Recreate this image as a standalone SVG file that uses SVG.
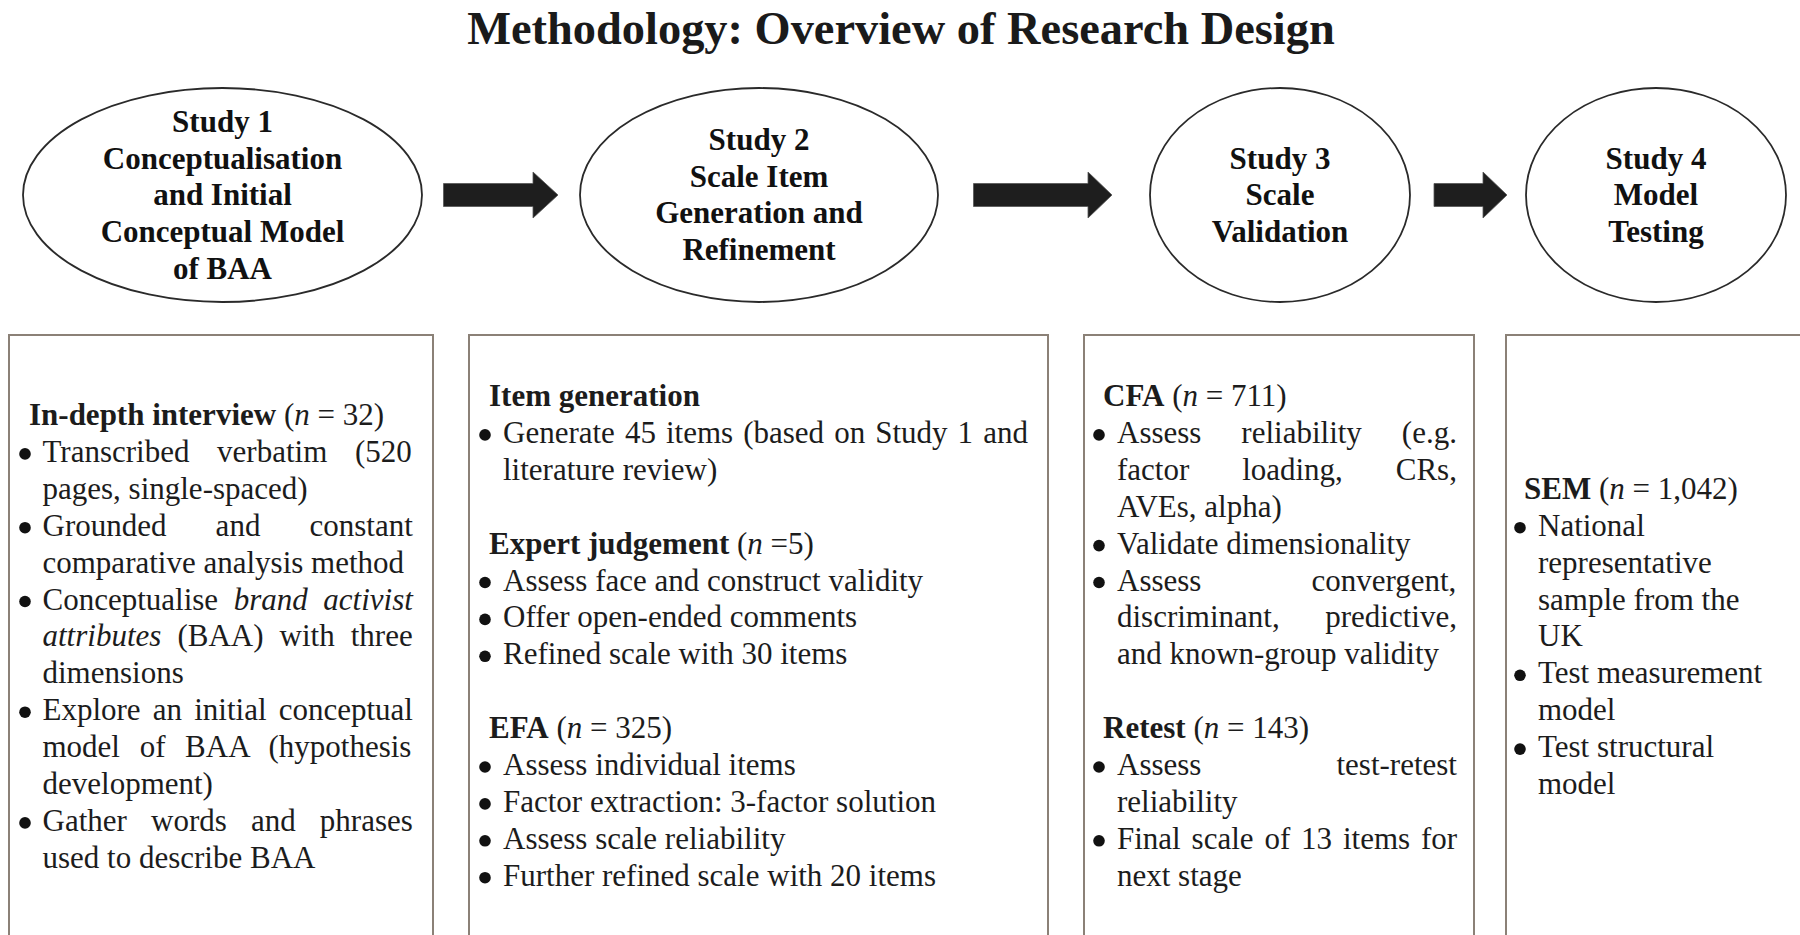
<svg xmlns="http://www.w3.org/2000/svg" width="1800" height="935" viewBox="0 0 1800 935">
<style>
.title{font-family:"Liberation Serif","Times New Roman",serif;font-size:46.4px;font-weight:bold;fill:#1a1a1a;text-anchor:middle}
.et{font-family:"Liberation Serif","Times New Roman",serif;font-size:31px;font-weight:bold;fill:#111;text-anchor:middle}
.t{font-family:"Liberation Serif","Times New Roman",serif;font-size:31px;fill:#1c1c1c}
.b{font-weight:bold}
.i{font-style:italic}
.ell{fill:#fff;stroke:#2a2a2a;stroke-width:1.8}
.box{fill:#fff;stroke:#8b8177;stroke-width:2}
.arr{fill:#1e1e1e;stroke:#555;stroke-width:0.8}
.dot{fill:#111}
</style>
<rect width="1800" height="935" fill="#fff"/>
<text class="title" x="901" y="44">Methodology: Overview of Research Design</text>

<g id="study1">
<ellipse class="ell" cx="222.5" cy="195" rx="199.5" ry="107"/>
<text class="et" x="222.5" y="132">Study 1</text>
<text class="et" x="222.5" y="168.7">Conceptualisation</text>
<text class="et" x="222.5" y="205.4">and Initial</text>
<text class="et" x="222.5" y="242.1">Conceptual Model</text>
<text class="et" x="222.5" y="278.8">of BAA</text>
</g>
<g id="study2">
<ellipse class="ell" cx="759" cy="195" rx="179" ry="107"/>
<text class="et" x="759" y="150">Study 2</text>
<text class="et" x="759" y="186.7">Scale Item</text>
<text class="et" x="759" y="223.4">Generation and</text>
<text class="et" x="759" y="260.1">Refinement</text>
</g>
<g id="study3">
<ellipse class="ell" cx="1280" cy="195" rx="130" ry="107"/>
<text class="et" x="1280" y="168.7">Study 3</text>
<text class="et" x="1280" y="205.4">Scale</text>
<text class="et" x="1280" y="242.1">Validation</text>
</g>
<g id="study4">
<ellipse class="ell" cx="1656" cy="195" rx="130" ry="107"/>
<text class="et" x="1656" y="168.7">Study 4</text>
<text class="et" x="1656" y="205.4">Model</text>
<text class="et" x="1656" y="242.1">Testing</text>
</g>

<g id="connectors">
<polygon class="arr" points="443.5,183.5 533,183.5 533,172 558,195 533,218 533,206.5 443.5,206.5"/>
<polygon class="arr" points="973.5,183.5 1088,183.5 1088,172 1112,195 1088,218 1088,206.5 973.5,206.5"/>
<polygon class="arr" points="1434,183.5 1483,183.5 1483,172 1507,195 1483,218 1483,206.5 1434,206.5"/>
</g>

<g id="box1">
<rect class="box" x="9" y="335" width="424" height="620"/>
<text class="t" x="29" y="425"><tspan class="b">In-depth interview</tspan> (<tspan class="i">n</tspan> = 32)</text>
<circle class="dot" cx="25" cy="453.9" r="5.8"/>
<text class="t" x="42.5" y="461.9" word-spacing="19.9">Transcribed verbatim (520</text>
<text class="t" x="42.5" y="498.8">pages, single-spaced)</text>
<circle class="dot" cx="25" cy="527.7" r="5.8"/>
<text class="t" x="42.5" y="535.7" word-spacing="41.4">Grounded and constant</text>
<text class="t" x="42.5" y="572.6">comparative analysis method</text>
<circle class="dot" cx="25" cy="601.5" r="5.8"/>
<text class="t" x="42.5" y="609.5" word-spacing="7.8">Conceptualise <tspan class="i">brand activist</tspan></text>
<text class="t" x="42.5" y="646.4" word-spacing="8.3"><tspan class="i">attributes</tspan> (BAA) with three</text>
<text class="t" x="42.5" y="683.3">dimensions</text>
<circle class="dot" cx="25" cy="712.2" r="5.8"/>
<text class="t" x="42.5" y="720.2" word-spacing="4.4">Explore an initial conceptual</text>
<text class="t" x="42.5" y="757.1" word-spacing="11.9">model of BAA (hypothesis</text>
<text class="t" x="42.5" y="794">development)</text>
<circle class="dot" cx="25" cy="822.9" r="5.8"/>
<text class="t" x="42.5" y="830.9" word-spacing="16.4">Gather words and phrases</text>
<text class="t" x="42.5" y="867.8">used to describe BAA</text>
</g>

<g id="box2">
<rect class="box" x="469" y="335" width="579" height="620"/>
<text class="t b" x="489" y="406">Item generation</text>
<circle class="dot" cx="485" cy="434.9" r="5.8"/>
<text class="t" x="503" y="442.9" word-spacing="2.3">Generate 45 items (based on Study 1 and</text>
<text class="t" x="503" y="479.8">literature review)</text>
<text class="t" x="489" y="553.6"><tspan class="b">Expert judgement</tspan> (<tspan class="i">n</tspan> =5)</text>
<circle class="dot" cx="485" cy="582.5" r="5.8"/>
<text class="t" x="503" y="590.5">Assess face and construct validity</text>
<circle class="dot" cx="485" cy="619.4" r="5.8"/>
<text class="t" x="503" y="627.4">Offer open-ended comments</text>
<circle class="dot" cx="485" cy="656.3" r="5.8"/>
<text class="t" x="503" y="664.3">Refined scale with 30 items</text>
<text class="t" x="489" y="738.1"><tspan class="b">EFA</tspan> (<tspan class="i">n</tspan> = 325)</text>
<circle class="dot" cx="485" cy="767" r="5.8"/>
<text class="t" x="503" y="775">Assess individual items</text>
<circle class="dot" cx="485" cy="803.9" r="5.8"/>
<text class="t" x="503" y="811.9">Factor extraction: 3-factor solution</text>
<circle class="dot" cx="485" cy="840.8" r="5.8"/>
<text class="t" x="503" y="848.8">Assess scale reliability</text>
<circle class="dot" cx="485" cy="877.7" r="5.8"/>
<text class="t" x="503" y="885.7">Further refined scale with 20 items</text>
</g>

<g id="box3">
<rect class="box" x="1084" y="335" width="390" height="620"/>
<text class="t" x="1103" y="406"><tspan class="b">CFA</tspan> (<tspan class="i">n</tspan> = 711)</text>
<circle class="dot" cx="1099" cy="434.9" r="5.8"/>
<text class="t" x="1117" y="442.9" word-spacing="32.2">Assess reliability (e.g.</text>
<text class="t" x="1117" y="479.8" word-spacing="45.1">factor loading, CRs,</text>
<text class="t" x="1117" y="516.7">AVEs, alpha)</text>
<circle class="dot" cx="1099" cy="545.6" r="5.8"/>
<text class="t" x="1117" y="553.6">Validate dimensionality</text>
<circle class="dot" cx="1099" cy="582.5" r="5.8"/>
<text class="t" x="1117" y="590.5" word-spacing="102.3">Assess convergent,</text>
<text class="t" x="1117" y="627.4" word-spacing="37.8">discriminant, predictive,</text>
<text class="t" x="1117" y="664.3">and known-group validity</text>
<text class="t" x="1103" y="738.1"><tspan class="b">Retest</tspan> (<tspan class="i">n</tspan> = 143)</text>
<circle class="dot" cx="1099" cy="767" r="5.8"/>
<text class="t" x="1117" y="775" word-spacing="127.3">Assess test-retest</text>
<text class="t" x="1117" y="811.9">reliability</text>
<circle class="dot" cx="1099" cy="840.8" r="5.8"/>
<text class="t" x="1117" y="848.8" word-spacing="3.1">Final scale of 13 items for</text>
<text class="t" x="1117" y="885.7">next stage</text>
</g>

<g id="box4">
<rect class="box" x="1506" y="335" width="400" height="620"/>
<text class="t" x="1524" y="498.8"><tspan class="b">SEM</tspan> (<tspan class="i">n</tspan> = 1,042)</text>
<circle class="dot" cx="1520" cy="527.7" r="5.8"/>
<text class="t" x="1538" y="535.7">National</text>
<text class="t" x="1538" y="572.6">representative</text>
<text class="t" x="1538" y="609.5">sample from the</text>
<text class="t" x="1538" y="646.4">UK</text>
<circle class="dot" cx="1520" cy="675.3" r="5.8"/>
<text class="t" x="1538" y="683.3">Test measurement</text>
<text class="t" x="1538" y="720.2">model</text>
<circle class="dot" cx="1520" cy="749.1" r="5.8"/>
<text class="t" x="1538" y="757.1">Test structural</text>
<text class="t" x="1538" y="794">model</text>
</g>
</svg>
